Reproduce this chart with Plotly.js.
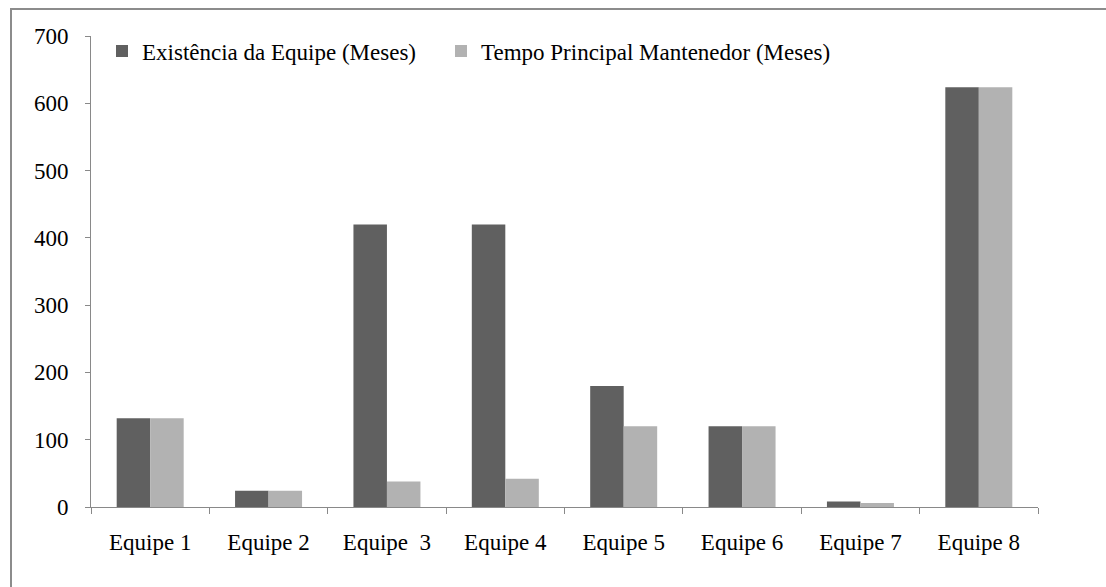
<!DOCTYPE html>
<html>
<head>
<meta charset="utf-8">
<script src="https://cdn.plot.ly/plotly-3.0.1.min.js"></script>
<style>html,body{margin:0;padding:0;background:#fff;}#chart{width:1106px;height:587px;}</style>
</head>
<body>
<div id="chart"></div>
<script>
const categories = ["Equipe 1", "Equipe 2", "Equipe\u00A0 3", "Equipe 4", "Equipe 5", "Equipe 6", "Equipe 7", "Equipe 8"];
const existenciaEquipe = [132, 24, 420, 420, 180, 120, 8, 624];
const tempoMantenedor = [132, 24, 38, 42, 120, 120, 6, 624];
const seriesNames = ["Existência da Equipe (Meses)", "Tempo Principal Mantenedor (Meses)"];
const yTicks = [0, 100, 200, 300, 400, 500, 600, 700];

const font = {family: "Liberation Serif, Times New Roman, serif", size: 23, color: "#000"};
const axisColor = "#898989";

const data = [
  {type: "bar", name: seriesNames[0], x: categories, y: existenciaEquipe, marker: {color: "#606060"}, legend: "legend"},
  {type: "bar", name: seriesNames[1], x: categories, y: tempoMantenedor, marker: {color: "#b2b2b2"}, legend: "legend2"}
];

const L = 91, R = 68, T = 36, B = 80, W = 1106, H = 587;
const pw = W - L - R, ph = H - T - B;
const px = v => (v - L) / pw;
const py = v => (H - B - v) / ph;

const legendBase = {orientation: "h", y: py(51), xanchor: "left", yanchor: "middle",
                    font: font, bgcolor: "rgba(0,0,0,0)", itemwidth: 30};

const layout = {
  width: W, height: H,
  margin: {l: L, r: R, t: T, b: B, pad: 0},
  paper_bgcolor: "#fff", plot_bgcolor: "#fff",
  font: font,
  barmode: "group", bargap: 0.434, bargroupgap: 0,
  showlegend: true,
  legend: Object.assign({}, legendBase, {x: px(102)}),
  legend2: Object.assign({}, legendBase, {x: px(441)}),
  xaxis: {type: "category", showgrid: false, zeroline: false, showline: true, linecolor: axisColor, linewidth: 1,
          ticks: "outside", tickson: "boundaries", ticklen: 6, tickcolor: axisColor, tickwidth: 1,
          tickfont: font, ticklabelstandoff: 14, fixedrange: true},
  yaxis: {range: [0, 700], tickvals: yTicks, showgrid: false, zeroline: false, showline: true, linecolor: axisColor, linewidth: 1,
          ticks: "outside", ticklen: 5, tickcolor: axisColor, tickwidth: 1, tickfont: font, ticklabelstandoff: 12, fixedrange: true},
  shapes: [
    {type: "line", xref: "paper", yref: "paper", x0: px(11), x1: px(11), y0: py(H + 20), y1: py(9), line: {color: "#8c8c8c", width: 2}},
    {type: "line", xref: "paper", yref: "paper", x0: px(10), x1: px(W + 20), y0: py(9), y1: py(9), line: {color: "#8c8c8c", width: 2}}
  ]
};

Plotly.newPlot("chart", data, layout, {displayModeBar: false, staticPlot: true});
</script>
</body>
</html>
